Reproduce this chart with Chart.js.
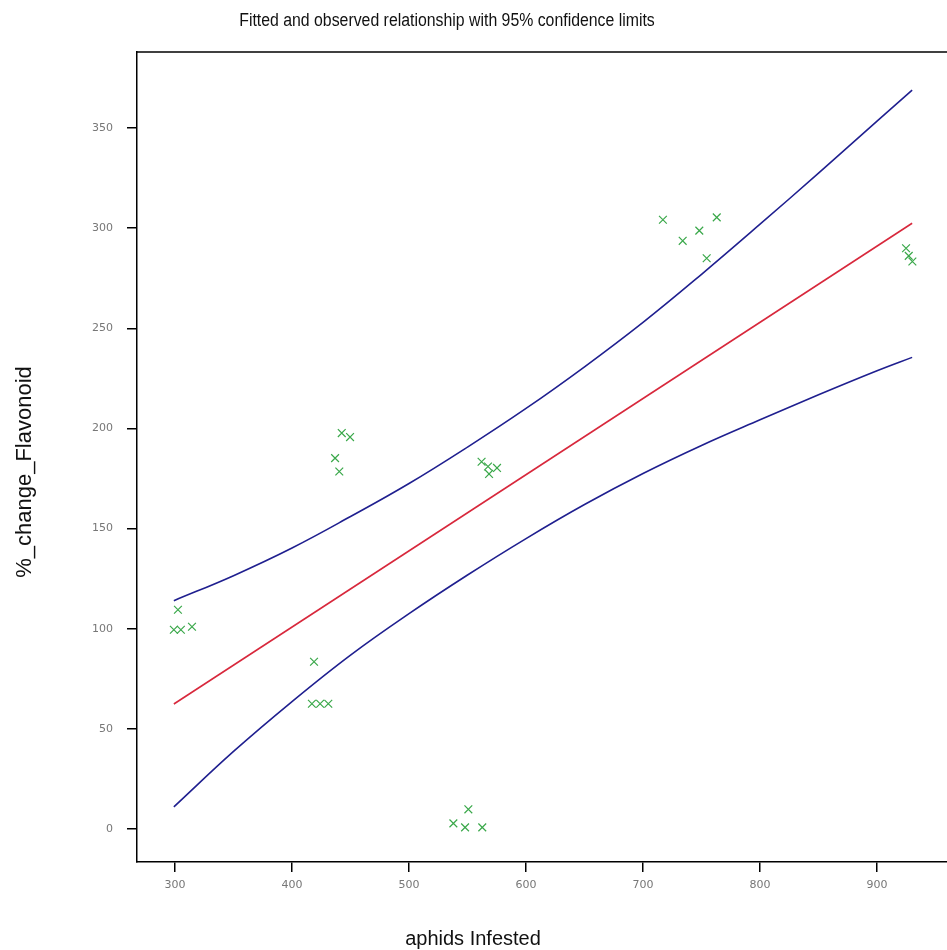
<!DOCTYPE html>
<html>
<head>
<meta charset="utf-8">
<title>Flavonoid vs aphids</title>
<script src="https://cdn.jsdelivr.net/npm/chart.js@4.4.1/dist/chart.umd.min.js"></script>
<style>
  html, body { margin: 0; padding: 0; background: #fff; overflow: hidden; }
  canvas { display: block; }
</style>
</head>
<body>
<canvas id="chart" width="947" height="950"></canvas>
<script>
// observed values
const obsX = [299, 305, 314.5, 302.5, 418.8, 417, 424, 431, 442.5, 449.6, 436.8, 440.4,
  562, 567.5, 568.4, 575.2, 550.7, 537.9, 547.9, 562.6, 717, 733.9, 748.1, 763, 754.4,
  924.8, 927.1, 930.2];
const obsY = [99.5, 99.5, 101, 109.5, 83.5, 62.5, 62.5, 62.5, 197.7, 195.7, 185.2, 178.5,
  183.4, 181, 177.3, 180.3, 9.8, 2.8, 0.8, 0.8, 304.2, 293.7, 298.8, 305.4, 285,
  290, 286.2, 283.4];

// fitted line end points
const fitX = [299, 930];
const fitY = [62.4, 302.5];

// 95% limits
const limX = [299, 350, 400, 450, 500, 550, 600, 650, 700, 750, 800, 850, 900, 930];
const upperY = [114, 126.5, 140.3, 156, 172.5, 190.7, 210, 230.8, 253, 277, 302, 327.5, 353.5, 369];
const lowerY = [11, 38.7, 63.6, 86.8, 107.5, 126.8, 145, 162, 177.5, 191.5, 204.3, 216.8, 228.8, 235.5];

const xTicks = [300, 400, 500, 600, 700, 800, 900];
const yTicks = [0, 50, 100, 150, 200, 250, 300, 350];

const pts = (xs, ys) => xs.map((x, i) => ({ x, y: ys[i] }));

// titles and the top edge of the frame
const extras = {
  id: "extras",
  afterDraw(chart) {
    const ctx = chart.ctx;
    const a = chart.chartArea;
    ctx.save();
    ctx.strokeStyle = "#000";
    ctx.lineWidth = 1.5;
    ctx.beginPath();
    ctx.moveTo(a.left, a.top);
    ctx.lineTo(a.right, a.top);
    ctx.stroke();

    ctx.fillStyle = "#111";
    ctx.textAlign = "center";
    ctx.textBaseline = "middle";

    // narrow-looking title: squeeze the regular face sideways
    ctx.save();
    ctx.translate(447, 21);
    ctx.scale(0.88, 1);
    ctx.font = "18px 'Liberation Sans', sans-serif";
    ctx.fillText("Fitted and observed relationship with 95% confidence limits", 0, 0);
    ctx.restore();

    ctx.font = "20px 'Liberation Sans', sans-serif";
    ctx.fillText("aphids Infested", 473, 939);

    ctx.translate(25, 472);
    ctx.rotate(-Math.PI / 2);
    ctx.font = "22px 'Liberation Sans', sans-serif";
    ctx.fillText("%_change_Flavonoid", 0, 0);
    ctx.restore();
  }
};

const tickFont = { family: "'DejaVu Sans', sans-serif", size: 11 };
const navy = "#1f1f8f";

new Chart(document.getElementById("chart"), {
  type: "scatter",
  data: {
    datasets: [
      {
        data: pts(obsX, obsY),
        pointStyle: "crossRot",
        pointRadius: 5.5,
        pointBorderWidth: 1.2,
        borderColor: "#3aa84a",
        showLine: false
      },
      {
        data: pts(limX, upperY),
        showLine: true,
        borderColor: navy,
        borderWidth: 1.6,
        pointRadius: 0,
        tension: 0.4
      },
      {
        data: pts(fitX, fitY),
        showLine: true,
        borderColor: "#d8283c",
        borderWidth: 1.6,
        pointRadius: 0
      },
      {
        data: pts(limX, lowerY),
        showLine: true,
        borderColor: navy,
        borderWidth: 1.6,
        pointRadius: 0,
        tension: 0.4
      }
    ]
  },
  options: {
    responsive: false,
    animation: false,
    layout: { autoPadding: false, padding: { top: 52, left: 0, right: 0, bottom: 0 } },
    plugins: {
      legend: { display: false },
      tooltip: { enabled: false }
    },
    scales: {
      x: {
        type: "linear",
        min: 267.5,
        max: 959.8,
        afterBuildTicks: s => { s.ticks = xTicks.map(v => ({ value: v })); },
        afterFit: s => { s.height = 88; },
        ticks: { color: "#777", font: tickFont, padding: 7, maxRotation: 0 },
        grid: { drawOnChartArea: false, drawTicks: true, tickLength: 10, color: "#000", lineWidth: 1.5 },
        border: { display: true, color: "#000", width: 1.5 }
      },
      y: {
        type: "linear",
        min: -16.5,
        max: 388,
        afterBuildTicks: s => { s.ticks = yTicks.map(v => ({ value: v })); },
        afterFit: s => { s.width = 137; },
        ticks: { color: "#777", font: tickFont, padding: 14 },
        grid: { drawOnChartArea: false, drawTicks: true, tickLength: 10, color: "#000", lineWidth: 1.5 },
        border: { display: true, color: "#000", width: 1.5 }
      }
    }
  },
  plugins: [extras]
});
</script>
</body>
</html>
